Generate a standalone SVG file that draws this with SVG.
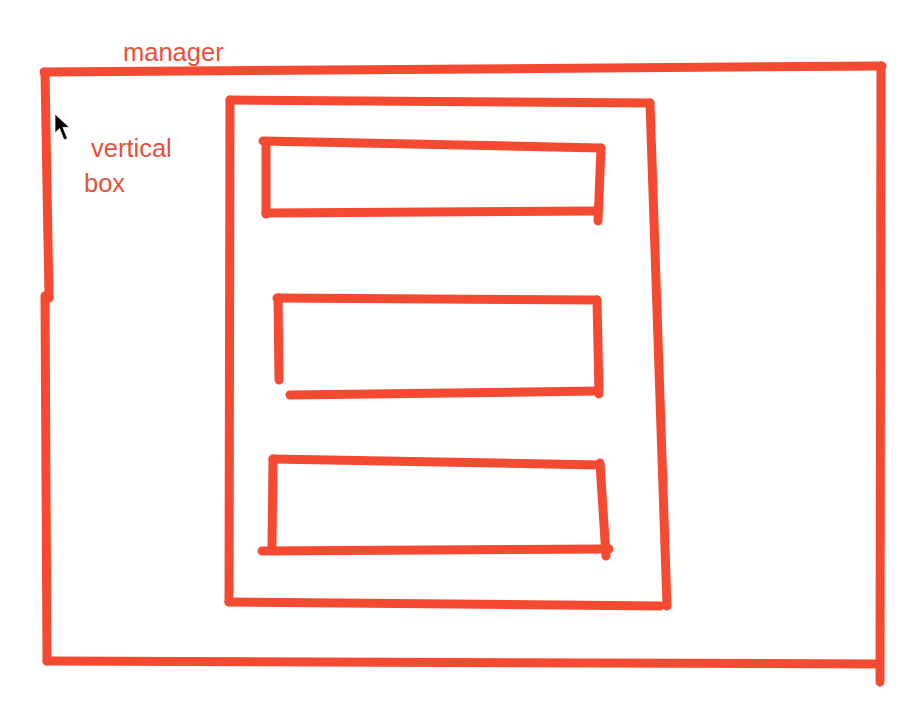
<svg xmlns="http://www.w3.org/2000/svg" width="913" height="710" viewBox="0 0 913 710">
<style>
.s{fill:none;stroke:#F44A32;stroke-width:9;stroke-linecap:round;stroke-linejoin:round}
.t{font-family:"Liberation Sans",Arial,sans-serif;font-size:25.5px;fill:#E8503A}
</style>
<rect width="913" height="710" fill="#fff"/>
<g id="manager">
<path class="s" d="M44,72 L882,66"/>
<path class="s" d="M45,72 L49,298"/>
<path class="s" d="M45,296 L47,661"/>
<path class="s" d="M47,661 L879,664"/>
<path class="s" d="M881,66 L880,682"/>
<text class="t" x="123" y="61">manager</text>
</g>
<g id="vertical-box">
<path class="s" d="M230,100 L650,103"/>
<path class="s" d="M230,100 L229,602"/>
<path class="s" d="M229,602 L660,606"/>
<path class="s" d="M650,103 L667,606"/>
<text class="t" x="91" y="157">vertical</text>
<text class="t" x="84" y="192">box</text>
</g>
<g id="item1">
<path class="s" d="M263,141 L601,148"/>
<path class="s" d="M266,143 L266,214"/>
<path class="s" d="M266,213 L596,211"/>
<path class="s" d="M601,148 L598,221"/>
</g>
<g id="item2">
<path class="s" d="M277,298 L597,300"/>
<path class="s" d="M278,298 L279,380"/>
<path class="s" d="M290,395 L598,391"/>
<path class="s" d="M597,300 L599,394"/>
</g>
<g id="item3">
<path class="s" d="M273,459 L600,465"/>
<path class="s" d="M273,459 L272,545"/>
<path class="s" d="M262,551 L609,549"/>
<path class="s" d="M600,463 L606,556"/>
</g>
<g id="cursor">
<path d="M55,114 L55,133 L59.5,128.5 L64,140 L67.5,138.5 L63,127.5 L69.5,127.5 Z" fill="#000" stroke="#fff" stroke-width="0.8"/>
</g>
<g id="connectors"></g>
</svg>
